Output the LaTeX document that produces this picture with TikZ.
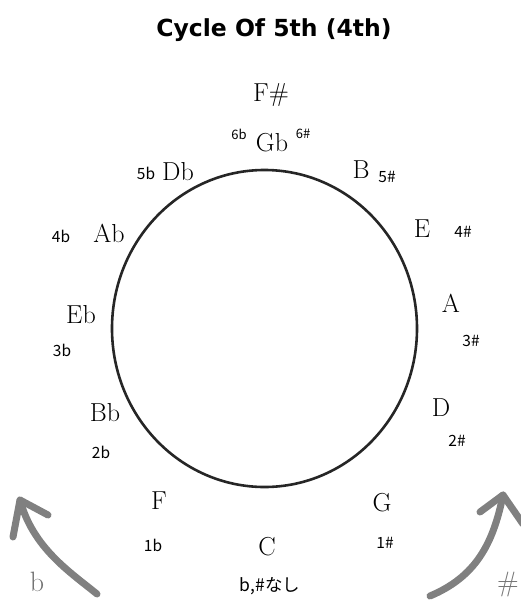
\documentclass[tikz,border=0pt]{standalone}
\usepackage{fontspec}
\newfontfamily\jpfont{Noto Sans CJK JP}
\newfontfamily\titlefont{DejaVu Sans}
\begin{document}
\begin{tikzpicture}[x=1pt,y=-1pt,
  note/.style={font=\fontsize{26}{26}\selectfont, inner sep=0pt},
  cnt/.style={font=\jpfont\fontsize{15.5}{15.5}\selectfont, inner sep=0pt},
  sup/.style={font=\jpfont\fontsize{13}{13}\selectfont, inner sep=0pt},
  ring/.style={line width=2.6pt, black!85},
  garrow/.style={line width=7pt, gray, line cap=round, line join=round},
  gtext/.style={font=\fontsize{28}{28}\selectfont, text=black!55, inner sep=0pt}]
\useasboundingbox (0,0) rectangle (521,600);
\node[font=\titlefont\bfseries\fontsize{23.5}{23.5}\selectfont, inner sep=0pt] (title) at (274,30) {Cycle Of 5th (4th)};
\draw[ring] (264.5,328.5) ellipse [x radius=152.5, y radius=158.5];
% notes
\node[note] (Fs) at (271,95) {F\#};
\node[note] (Gb) at (272,143) {Gb};
\node[sup] (s6b) at (239,134) {6b};
\node[sup] (s6s) at (303,134) {6\#};
\node[note] (Db) at (178,172) {Db};
\node[cnt] (c5b) at (146,173) {5b};
\node[note] (B) at (361,170) {B};
\node[cnt] (c5s) at (387,177) {5\#};
\node[note] (Ab) at (109,233) {Ab};
\node[cnt] (c4b) at (61,236) {4b};
\node[note] (E) at (422,229) {E};
\node[cnt] (c4s) at (463,232) {4\#};
\node[note] (Eb) at (81,315) {Eb};
\node[cnt] (c3b) at (62,350) {3b};
\node[note] (A) at (451,303) {A};
\node[cnt] (c3s) at (471,341) {3\#};
\node[note] (Bb) at (105,413) {Bb};
\node[cnt] (c2b) at (101,452) {2b};
\node[note] (D) at (441,408) {D};
\node[cnt] (c2s) at (457,441) {2\#};
\node[note] (F) at (159,501) {F};
\node[cnt] (c1b) at (153,545) {1b};
\node[note] (G) at (382,503) {G};
\node[cnt] (c1s) at (385,543) {1\#};
\node[note] (C) at (267,547) {C};
\node[cnt, font=\jpfont\fontsize{17.5}{17.5}\selectfont] (c0) at (270,586) {b,\#なし};
% gray arrows
\draw[garrow] (97,594) .. controls (70,572) and (33,548) .. (20,500);
\draw[garrow] (13,537) -- (20,500) -- (48,515);
\draw[garrow] (430,596) .. controls (475,577) and (493,545) .. (503,495);
\draw[garrow] (480,512) -- (503,495) -- (523,524);
\node[gtext] (flat) at (37,582) {b};
\node[gtext] (sharp) at (508,585) {\#};
\end{tikzpicture}
\end{document}
